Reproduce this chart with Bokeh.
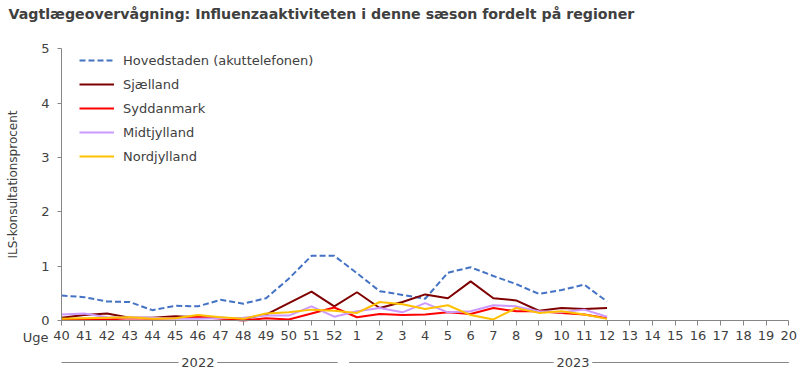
from bokeh.plotting import figure
from bokeh.models import Range1d, FixedTicker, Legend, LegendItem
from bokeh.core.properties import value
from bokeh.embed import file_html
from bokeh.resources import INLINE

weeks = ["40", "41", "42", "43", "44", "45", "46", "47", "48", "49", "50", "51", "52",
         "1", "2", "3", "4", "5", "6", "7", "8", "9", "10", "11", "12", "13", "14",
         "15", "16", "17", "18", "19", "20"]
years = ["2022", "2023"]
year_first_week = [0, 13]
year_last_week = [12, 32]
y_ticks = [0, 1, 2, 3, 4, 5]

hovedstaden = [0.46, 0.43, 0.35, 0.34, 0.19, 0.27, 0.26, 0.38, 0.31, 0.41, 0.77, 1.19, 1.19,
               0.87, 0.54, 0.47, 0.40, 0.88, 0.98, 0.82, 0.67, 0.49, 0.56, 0.66, 0.35]
sjaelland = [0.05, 0.10, 0.13, 0.05, 0.05, 0.08, 0.06, 0.05, 0.03, 0.11, 0.32, 0.53, 0.26,
             0.52, 0.23, 0.34, 0.48, 0.41, 0.72, 0.41, 0.37, 0.18, 0.23, 0.21, 0.23]
syddanmark = [0.01, 0.02, 0.02, 0.04, 0.03, 0.04, 0.07, 0.03, 0.00, 0.04, 0.02, 0.13, 0.24,
              0.06, 0.12, 0.10, 0.11, 0.15, 0.12, 0.23, 0.17, 0.17, 0.14, 0.11, 0.04]
midtjylland = [0.11, 0.13, 0.06, 0.05, 0.05, 0.03, 0.03, 0.04, 0.05, 0.09, 0.09, 0.26, 0.07,
               0.17, 0.23, 0.15, 0.32, 0.15, 0.17, 0.28, 0.26, 0.17, 0.15, 0.20, 0.07]
nordjylland = [0.03, 0.04, 0.05, 0.06, 0.03, 0.04, 0.10, 0.06, 0.03, 0.13, 0.15, 0.20, 0.18,
               0.14, 0.34, 0.30, 0.21, 0.28, 0.10, 0.02, 0.23, 0.14, 0.17, 0.11, 0.03]

series_names = ["Hovedstaden (akuttelefonen)", "Sjælland", "Syddanmark", "Midtjylland", "Nordjylland"]
series_values = [hovedstaden, sjaelland, syddanmark, midtjylland, nordjylland]
series_colors = ["#4472C4", "#7F0000", "#FF0000", "#CC99FF", "#FFC000"]
series_dash = ["6 3", "solid", "solid", "solid", "solid"]

title_text = "Vagtlægeovervågning: Influenzaaktiviteten i denne sæson fordelt på regioner"

FONT = "DejaVu Sans"
TXT = "#404040"
AX = "#868686"

W, H = 800, 374
X0_PX, XSTEP = 61.0, 22.73      # pixel of first week, pixels per week
Y0_PX, YSTEP = 320.0, 54.34     # pixel of value 0, pixels per unit
x_start = -X0_PX / XSTEP
x_end = (W - X0_PX) / XSTEP
y_start = -(H - Y0_PX) / YSTEP
y_end = Y0_PX / YSTEP

p = figure(width=W, height=H, output_backend="svg", toolbar_location=None,
           x_range=Range1d(x_start, x_end), y_range=Range1d(y_start, y_end),
           min_border=0)
p.outline_line_color = None
p.grid.visible = False
p.background_fill_color = "white"
p.border_fill_color = "white"

items = []
for name, vals, col, dash in zip(series_names, series_values, series_colors, series_dash):
    r = p.line(list(range(len(vals))), vals, line_color=col, line_width=2, line_dash=dash)
    items.append(LegendItem(label=name, renderers=[r]))

legend = Legend(items=items, location=(79, 208), padding=0, margin=0, spacing=4,
                glyph_width=35, glyph_height=20, label_height=20, label_standoff=9,
                label_text_font=FONT, label_text_font_size="13px", label_text_color=TXT,
                border_line_color=None, background_fill_alpha=0)
p.add_layout(legend)

xa = p.xaxis[0]
ya = p.yaxis[0]
xa.fixed_location = 0
xa.bounds = (0, len(weeks) - 1)
ya.fixed_location = 0
ya.bounds = (y_ticks[0], y_ticks[-1])

xa.ticker = FixedTicker(ticks=list(range(len(weeks))))
xa.major_label_overrides = {i: w for i, w in enumerate(weeks)}
xa.minor_tick_line_color = None
xa.major_tick_in = 0
xa.major_tick_out = 5
xa.major_label_standoff = 5
ya.ticker = FixedTicker(ticks=y_ticks)
ya.minor_tick_line_color = None
ya.major_tick_in = 0
ya.major_tick_out = 4
ya.major_label_standoff = 8
ya.axis_label = "ILS-konsultationsprocent"
ya.axis_label_text_font_style = "normal"
ya.axis_label_text_font_size = "12px"
ya.axis_label_standoff = 18
for ax in (xa, ya):
    ax.axis_line_color = AX
    ax.major_tick_line_color = AX
    ax.major_label_text_font = FONT
    ax.major_label_text_font_size = "13px"
    ax.major_label_text_color = TXT
    ax.axis_label_text_font = FONT
    ax.axis_label_text_color = TXT

# title
p.text(x=[(8 - X0_PX) / XSTEP], y=[(Y0_PX - 13) / YSTEP], text=[title_text],
       text_font=value(FONT), text_font_size="14.2px", text_font_style="bold",
       text_color=TXT, text_align="left", text_baseline="middle")
# "Uge"
p.text(x=[(48 - X0_PX) / XSTEP], y=[(Y0_PX - 337) / YSTEP], text=["Uge"],
       text_font=value(FONT), text_font_size="13px", text_color=TXT,
       text_align="right", text_baseline="middle")

# year groups
yy = (Y0_PX - 362) / YSTEP
gap = 0.85
centers, seg_x0, seg_x1 = [], [], []
for a, b in zip(year_first_week, year_last_week):
    lo = a - 0.35 if a > 0 else a
    hi = b + 0.15 if b < len(weeks) - 1 else b
    c = (a + b) / 2
    centers.append(c)
    seg_x0 += [lo, c + gap]
    seg_x1 += [c - gap, hi]
p.text(x=centers, y=[yy] * len(centers), text=years, text_font=value(FONT),
       text_font_size="13px", text_color=TXT, text_align="center", text_baseline="middle")
p.segment(x0=seg_x0, y0=[yy] * len(seg_x0), x1=seg_x1, y1=[yy] * len(seg_x1),
          line_color=AX, line_width=1)

open("out.html", "w").write(file_html(p, INLINE))
